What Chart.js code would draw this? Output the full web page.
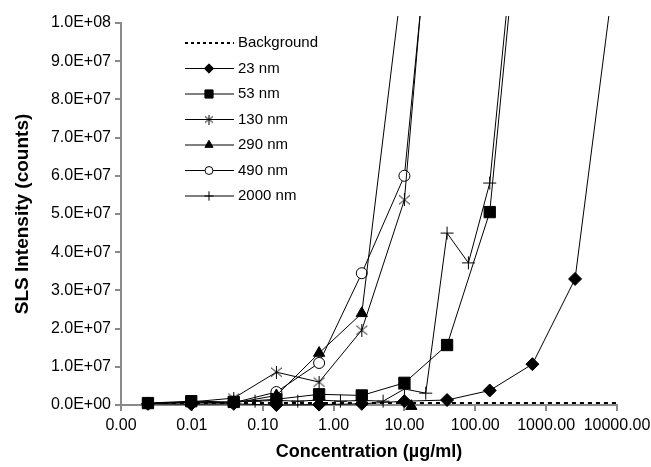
<!DOCTYPE html>
<html>
<head>
<meta charset="utf-8">
<script src="https://cdn.jsdelivr.net/npm/chart.js@4/dist/chart.umd.min.js"></script>
<style>
  html, body { margin: 0; background: #fff; }
  #wrap { width: 651px; height: 467px; }
</style>
</head>
<body>
<div id="wrap"><canvas id="chartCanvas"></canvas></div>
<script>
// 數據
var xTickValues = [0.001, 0.01, 0.1, 1, 10, 100, 1000, 10000];

var bgX = [0.0024, 10000];
var bgY = [5e5, 5e5];

var nm23X = [0.0024, 0.0098, 0.039, 0.156, 0.625, 2.5, 10, 40, 160, 640, 2560, 10240];
var nm23Y = [3e5, 2e5, 3e5, 0, 1e5, 3e5, 1.0e6, 1.3e6, 3.8e6, 1.07e7, 3.3e7, 1.2e8];

var nm53X = [0.0024, 0.0098, 0.039, 0.156, 0.625, 2.5, 10, 40, 160, 640];
var nm53Y = [5e5, 1.0e6, 8e5, 1.5e6, 2.8e6, 2.5e6, 5.8e6, 1.57e7, 5.05e7, 1.66e8];

var nm130X = [0.0024, 0.0098, 0.039, 0.156, 0.625, 2.5, 10, 40];
var nm130Y = [4e5, 8e5, 1.8e6, 8.6e6, 6.0e6, 1.96e7, 5.37e7, 1.85e8];

var nm290X = [0.0024, 0.0098, 0.039, 0.156, 0.625, 2.5, 10, 11, 12.5];
var nm290Y = [4e5, 6e5, 5e5, 2.5e6, 1.36e7, 2.4e7, 1.16e8, null, -3e5];

var nm490X = [0.0024, 0.0098, 0.039, 0.156, 0.625, 2.5, 10, 40];
var nm490Y = [4e5, 7e5, 6e5, 3.4e6, 1.1e7, 3.45e7, 6.0e7, 1.75e8];

var nm2000X = [0.039, 0.078, 0.156, 0.3125, 0.625, 1.25, 2.5, 5, 10, 20, 40, 80, 160, 320];
var nm2000Y = [1.0e6, 1.0e6, 1.2e6, 1.0e6, 1.3e6, 1.0e6, 1.2e6, 1.0e6, 4.2e6, 3.1e6, 4.5e7, 3.72e7, 5.81e7, 1.15e8];

function pts(xs, ys) {
  return xs.map(function(x, i) { return { x: x, y: ys[i] }; });
}

// 星號標記 (Excel 樣式)
function makeAsterisk(size) {
  var c = document.createElement('canvas');
  c.width = size; c.height = size;
  var g = c.getContext('2d');
  g.strokeStyle = '#000';
  g.lineWidth = 1;
  g.beginPath();
  g.moveTo(1, 2); g.lineTo(size - 1, size - 2);
  g.moveTo(size - 1, 2); g.lineTo(1, size - 2);
  g.moveTo(size / 2, 0); g.lineTo(size / 2, size);
  g.stroke();
  return c;
}
var asterisk = makeAsterisk(13);
var asteriskSmall = makeAsterisk(10);

function fmtExp(v) {
  if (v === 0) return '0.0E+00';
  var e = Math.floor(Math.log10(v) + 1e-9);
  var m = v / Math.pow(10, e);
  return m.toFixed(1) + 'E+' + (e < 10 ? '0' : '') + e;
}

var FONT = "'Liberation Sans', Arial, sans-serif";

function series(label, data, style, radius, filled) {
  return {
    label: label,
    data: data,
    showLine: true,
    borderColor: '#000',
    borderWidth: 1,
    backgroundColor: filled ? '#000' : '#fff',
    pointStyle: style,
    pointRadius: radius,
    pointBorderColor: '#000',
    pointBackgroundColor: filled ? '#000' : '#fff',
    pointBorderWidth: 1,
    tension: 0,
    spanGaps: false,
    clip: { left: 10, top: 7, right: 10, bottom: 12 }
  };
}

var datasets = [
  {
    label: 'Background',
    data: pts(bgX, bgY),
    showLine: true,
    borderColor: '#000',
    borderWidth: 2,
    borderDash: [4, 4],
    pointRadius: 0,
    legendDash: [3, 3],
    clip: { left: 10, top: 7, right: 10, bottom: 12 }
  },
  series('23 nm', pts(nm23X, nm23Y), 'rectRot', 6.5, true),
  series('53 nm', pts(nm53X, nm53Y), 'rect', 8, true),
  series('130 nm', pts(nm130X, nm130Y), asterisk, 6, true),
  series('290 nm', pts(nm290X, nm290Y), 'triangle', 6.5, true),
  series('490 nm', pts(nm490X, nm490Y), 'circle', 5.5, false),
  series('2000 nm', pts(nm2000X, nm2000Y), 'cross', 6.5, false)
];

// 自訂圖例：線段穿過標記
var legendPlugin = {
  id: 'lineLegend',
  afterDraw: function(chart) {
    var ctx = chart.ctx;
    var x0 = 185, x1 = 234, xm = 209, tx = 238, y0 = 43, dy = 25.5;
    ctx.save();
    ctx.font = '15px ' + FONT;
    ctx.textBaseline = 'middle';
    ctx.fillStyle = '#000';
    chart.data.datasets.forEach(function(ds, i) {
      var y = y0 + i * dy;
      ctx.strokeStyle = '#000';
      ctx.lineWidth = ds.borderWidth;
      ctx.setLineDash(ds.legendDash || []);
      ctx.beginPath();
      ctx.moveTo(x0, y);
      ctx.lineTo(x1, y);
      ctx.stroke();
      ctx.setLineDash([]);
      if (ds.pointRadius > 0 && Chart.helpers && Chart.helpers.drawPoint) {
        ctx.fillStyle = ds.pointBackgroundColor;
        ctx.strokeStyle = '#000';
        ctx.lineWidth = 1;
        Chart.helpers.drawPoint(ctx, {
          pointStyle: ds.pointStyle === asterisk ? asteriskSmall : ds.pointStyle,
          radius: ds.pointRadius * 0.72,
          rotation: 0,
          borderWidth: 1
        }, xm, y);
      }
      ctx.fillStyle = '#000';
      ctx.fillText(ds.label, tx, y);
    });
    ctx.restore();
  }
};

var axisColor = '#8a8a8a';

new Chart(document.getElementById('chartCanvas').getContext('2d'), {
  type: 'scatter',
  data: { datasets: datasets },
  plugins: [legendPlugin],
  options: {
    responsive: true,
    maintainAspectRatio: false,
    animation: false,
    devicePixelRatio: 1,
    layout: { padding: { top: 23, right: 34, left: 0, bottom: 0 } },
    plugins: {
      legend: { display: false },
      tooltip: { enabled: false }
    },
    scales: {
      x: {
        type: 'logarithmic',
        min: 0.001,
        max: 10000,
        afterFit: function(s) { s.height = 62; s.paddingLeft = 0; s.paddingRight = 0; },
        afterBuildTicks: function(s) {
          s.ticks = xTickValues.map(function(v) { return { value: v, major: true }; });
        },
        border: { color: axisColor, width: 2 },
        grid: { drawOnChartArea: false, drawTicks: true, tickLength: 6, color: axisColor, lineWidth: 2 },
        ticks: {
          autoSkip: false,
          maxRotation: 0,
          padding: 5,
          color: '#000',
          font: { family: FONT, size: 16 },
          callback: function(v) { return Number(v).toFixed(2); }
        },
        title: {
          display: true,
          text: 'Concentration (\u00b5g/ml)',
          color: '#000',
          font: { family: FONT, size: 18, weight: 'bold' },
          padding: { top: 0, bottom: 4 }
        }
      },
      y: {
        min: 0,
        max: 1e8,
        afterFit: function(s) { s.width = 121; s.paddingTop = 0; s.paddingBottom = 0; },
        border: { color: axisColor, width: 2 },
        grid: { drawOnChartArea: false, drawTicks: true, tickLength: 6, color: axisColor, lineWidth: 2 },
        ticks: {
          stepSize: 1e7,
          padding: 4,
          color: '#000',
          font: { family: FONT, size: 16 },
          callback: function(v) { return fmtExp(v); }
        },
        title: {
          display: true,
          text: 'SLS Intensity (counts)',
          color: '#000',
          font: { family: FONT, size: 19, weight: 'bold' },
          padding: { top: 11, bottom: 0 }
        }
      }
    }
  }
});
</script>
</body>
</html>
